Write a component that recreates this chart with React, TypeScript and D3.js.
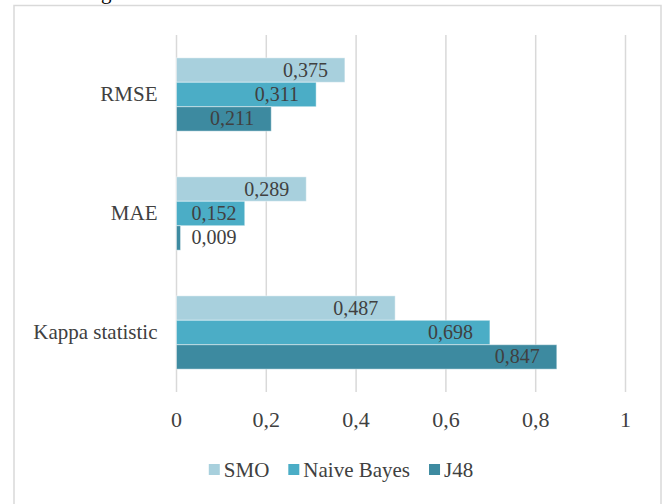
import React, { useEffect, useRef } from 'react';
import * as d3 from 'd3';

const categories = ['RMSE', 'MAE', 'Kappa statistic'];
const seriesNames = ['SMO', 'Naive Bayes', 'J48'];
const smoValues = [0.375, 0.289, 0.487];
const naiveBayesValues = [0.311, 0.152, 0.698];
const j48Values = [0.211, 0.009, 0.847];
const xTicks = [0, 0.2, 0.4, 0.6, 0.8, 1];
const colors = ['#a8d0dd', '#4badc6', '#3d8aa0'];

const fmt = (v: number) => String(v).replace('.', ',');

const App = () => {
  const ref = useRef<SVGSVGElement>(null);

  useEffect(() => {
    const svg = d3.select(ref.current);
    svg.selectAll('*').remove();

    const W = 664;
    const H = 504;
    const font = '"Liberation Serif", "Times New Roman", serif';
    const textColor = '#404040';
    const gridColor = '#d9d9d9';

    // chart area border (bottom runs off the picture)
    svg
      .append('rect')
      .attr('x', 14)
      .attr('y', 5.5)
      .attr('width', 647)
      .attr('height', 520)
      .attr('fill', '#fff')
      .attr('stroke', gridColor)
      .attr('stroke-width', 1.5);

    // cut-off caption fragment above the chart
    svg
      .append('text')
      .attr('x', 101)
      .attr('y', -1)
      .style('font-family', font)
      .style('font-size', '21px')
      .attr('fill', '#000')
      .text('g');

    const x = d3.scaleLinear().domain([0, 1]).range([176.5, 625.5]);
    const y = d3
      .scaleBand()
      .domain(categories)
      .range([35, 392])
      .paddingInner(0.384)
      .paddingOuter(0.192);
    const ySub = d3.scaleBand().domain(seriesNames).range([0, y.bandwidth()]);

    // gridlines
    svg
      .append('g')
      .selectAll('line')
      .data(xTicks)
      .join('line')
      .attr('x1', (d) => x(d))
      .attr('x2', (d) => x(d))
      .attr('y1', 35)
      .attr('y2', 392)
      .attr('stroke', gridColor)
      .attr('stroke-width', 1.5);

    // tick labels
    svg
      .append('g')
      .selectAll('text')
      .data(xTicks)
      .join('text')
      .attr('x', (d) => x(d))
      .attr('y', 427)
      .attr('text-anchor', 'middle')
      .style('font-family', font)
      .style('font-size', '22px')
      .attr('fill', textColor)
      .text((d) => fmt(d));

    // category labels
    svg
      .append('g')
      .selectAll('text')
      .data(categories)
      .join('text')
      .attr('x', 157.5)
      .attr('y', (d) => (y(d) as number) + y.bandwidth() / 2 + 6.3)
      .attr('text-anchor', 'end')
      .style('font-family', font)
      .style('font-size', '21px')
      .attr('fill', textColor)
      .text((d) => d);

    const valueSets = [smoValues, naiveBayesValues, j48Values];
    const data = categories.flatMap((c, ci) =>
      seriesNames.map((s, si) => ({ cat: c, series: s, si, value: valueSets[si][ci] }))
    );

    // bars
    svg
      .append('g')
      .selectAll('rect')
      .data(data)
      .join('rect')
      .attr('x', x(0))
      .attr('y', (d) => (y(d.cat) as number) + (ySub(d.series) as number))
      .attr('width', (d) => x(d.value) - x(0))
      .attr('height', ySub.bandwidth())
      .attr('fill', (d) => colors[d.si])
      .attr('stroke', 'rgba(255,255,255,0.45)')
      .attr('stroke-width', 1);

    // data labels, inside end, pushed right when the bar is too short
    const labels = svg
      .append('g')
      .selectAll('text')
      .data(data)
      .join('text')
      .attr('y', (d) => (y(d.cat) as number) + (ySub(d.series) as number) + ySub.bandwidth() / 2 + 6.5)
      .attr('text-anchor', 'end')
      .style('font-family', font)
      .style('font-size', '20px')
      .attr('fill', textColor)
      .text((d) => fmt(d.value));
    labels.each(function (d) {
      const w = (this as SVGTextElement).getComputedTextLength();
      const xe = Math.max(x(d.value) - 17, x(0) + 15 + w);
      d3.select(this).attr('x', xe);
    });

    // legend
    const legend = svg.append('g');
    let cx = 0;
    seriesNames.forEach((s, i) => {
      legend
        .append('rect')
        .attr('x', cx)
        .attr('y', 464)
        .attr('width', 11)
        .attr('height', 11)
        .attr('fill', colors[i]);
      const t = legend
        .append('text')
        .attr('x', cx + 15)
        .attr('y', 477)
        .style('font-family', font)
        .style('font-size', '21px')
        .attr('fill', textColor)
        .text(s);
      const w = (t.node() as SVGTextElement).getComputedTextLength();
      cx += 15 + w + (i < seriesNames.length - 1 ? 19 : 0);
    });
    legend.attr('transform', `translate(${341 - cx / 2},0)`);
  }, []);

  return (
    <svg
      ref={ref}
      width={664}
      height={504}
      style={{ position: 'absolute', left: 0, top: 0, background: '#fff' }}
    />
  );
};

export default App;
